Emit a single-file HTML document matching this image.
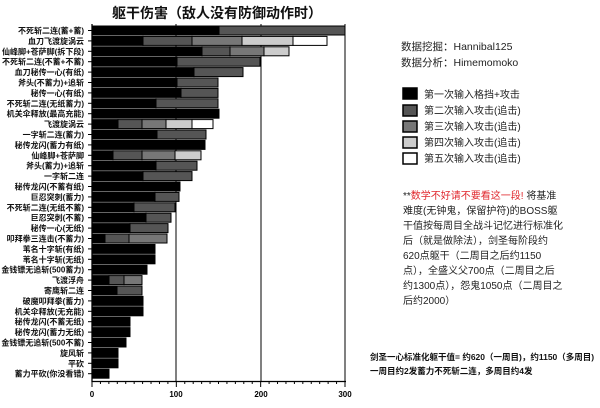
<!DOCTYPE html>
<html><head><meta charset="utf-8"><style>
body{margin:0;background:#fff;width:600px;height:403px;overflow:hidden}
svg text{font-family:"Liberation Sans","Noto Sans CJK SC",sans-serif}
</style></head><body>
<svg width="600" height="403" viewBox="0 0 600 403" xmlns="http://www.w3.org/2000/svg">
<text x="217" y="18" font-size="14" font-weight="bold" text-anchor="middle" fill="#111">躯干伤害（敌人没有防御动作时）</text>
<g stroke="#000" stroke-width="1">
<line x1="176" y1="24" x2="176" y2="381"/>
<line x1="261" y1="24" x2="261" y2="381"/>
<line x1="345" y1="24" x2="345" y2="381"/>
</g>
<g id="bars" stroke="#000" stroke-width="1"></g>
<g id="labels" font-size="8" font-weight="bold" text-anchor="end" fill="#111"></g>
<g stroke="#000" stroke-width="1.3">
<line x1="92" y1="24" x2="92" y2="382"/>
<line x1="92" y1="381.5" x2="346" y2="381.5"/>
</g>
<g id="ticks" stroke="#000" stroke-width="1"></g>
<g font-size="8" font-weight="bold" text-anchor="middle" fill="#000">
<text x="92" y="397">0</text><text x="176" y="397">100</text><text x="261" y="397">200</text><text x="345" y="397">300</text>
</g>
<g font-size="10.5" fill="#222">
<text x="401" y="50">数据挖掘：Hannibal125</text>
<text x="401" y="66">数据分析：Himemomoko</text>
</g>
<g stroke="#000" stroke-width="1.5">
<rect x="403" y="88" width="14" height="11" fill="#000"/>
<rect x="403" y="105" width="14" height="11" fill="#555"/>
<rect x="403" y="121" width="14" height="11" fill="#777"/>
<rect x="403" y="137" width="14" height="11" fill="#ccc"/>
<rect x="403" y="153" width="14" height="11" fill="#fff"/>
</g>
<g font-size="10" fill="#222">
<text x="424" y="98">第一次输入格挡+攻击</text>
<text x="424" y="114">第二次输入攻击(追击)</text>
<text x="424" y="130">第三次输入攻击(追击)</text>
<text x="424" y="146">第四次输入攻击(追击)</text>
<text x="424" y="162">第五次输入攻击(追击)</text>
</g>
<g font-size="10" fill="#222">
<text x="403" y="199"><tspan fill="#222">**</tspan><tspan fill="#e0282e">数学不好请不要看这一段!</tspan> 将基准</text>
<text x="403" y="214">难度(无钟鬼，保留护符)的BOSS躯</text>
<text x="403" y="229">干值按每周目全战斗记忆进行标准化</text>
<text x="403" y="244">后（就是做除法），剑圣每阶段约</text>
<text x="403" y="259">620点躯干（二周目之后约1150</text>
<text x="403" y="274">点），全盛义父700点（二周目之后</text>
<text x="403" y="289">约1300点），怨鬼1050点（二周目之</text>
<text x="403" y="304">后约2000）</text>
</g>
<g font-size="8.5" font-weight="bold" fill="#111">
<text x="370" y="360">剑圣一心标准化躯干值= 约620（一周目)，约1150（多周目)</text>
<text x="370" y="374">一周目约2发蓄力不死斩二连，多周目约4发</text>
</g>
<script>
var data=[
["不死斩二连(蓄+蓄)",[219,345]],
["血刀飞渡旋涡云",[143,192,242,293,327]],
["仙峰脚+苍萨脚(拆下段)",[202,230,264,289]],
["不死斩二连(不蓄+不蓄)",[177,260]],
["血刀秘传一心(有纸)",[194,243]],
["斧头(不蓄力)+追斩",[177,218]],
["秘传一心(有纸)",[181,218]],
["不死斩二连(无纸蓄力)",[156,218]],
["机关伞释放(最高充能)",[219]],
["飞渡旋涡云",[118,142,166,192,213]],
["一字斩二连(蓄力)",[157,206]],
["秘传龙闪(蓄力有纸)",[205]],
["仙峰脚+苍萨脚",[113,142,175,201]],
["斧头(蓄力)+追斩",[156,197]],
["一字斩二连",[143,192]],
["秘传龙闪(不蓄有纸)",[180]],
["巨忍突刺(蓄力)",[155,179]],
["不死斩二连(无纸不蓄)",[134,175]],
["巨忍突刺(不蓄)",[146,171]],
["秘传一心(无纸)",[130,168]],
["叩拜拳三连击(不蓄力)",[105,129,167]],
["苇名十字斩(有纸)",[155]],
["苇名十字斩(无纸)",[155]],
["金钱镖无追斩(500蓄力)",[147]],
["飞渡浮舟",[109,124,142]],
["寄鹰斩二连",[117,142]],
["破魔叩拜拳(蓄力)",[143]],
["机关伞释放(无充能)",[143]],
["秘传龙闪(不蓄无纸)",[130]],
["秘传龙闪(蓄力无纸)",[130]],
["金钱镖无追斩(500不蓄)",[126]],
["旋风斩",[118]],
["平砍",[118]],
["蓄力平砍(你没看错)",[109]]];
var cols=["#000","#555","#777","#ccc","#fff"];
var ns="http://www.w3.org/2000/svg";
var B=document.getElementById("bars"),L=document.getElementById("labels"),T=document.getElementById("ticks");
data.forEach(function(d,i){
 var cy=30.5+i*10.4,x=92;
 d[1].forEach(function(e,j){
  var r=document.createElementNS(ns,"rect");
  r.setAttribute("x",x);r.setAttribute("y",cy-4.5);r.setAttribute("width",e-x);r.setAttribute("height",9);
  r.setAttribute("fill",cols[j]);B.appendChild(r);x=e;});
 var t=document.createElementNS(ns,"text");
 t.setAttribute("x",84);t.setAttribute("y",cy+3);t.textContent=d[0];L.appendChild(t);
 var l=document.createElementNS(ns,"line");
 l.setAttribute("x1",88);l.setAttribute("x2",92);l.setAttribute("y1",cy);l.setAttribute("y2",cy);T.appendChild(l);
});
for(var v=0;v<=300;v+=10){var xx=92+v*0.8433;var l=document.createElementNS(ns,"line");
 l.setAttribute("x1",xx);l.setAttribute("x2",xx);l.setAttribute("y1",381);l.setAttribute("y2",v%100==0?387:384);T.appendChild(l);}
</script>
</svg>
</body></html>
